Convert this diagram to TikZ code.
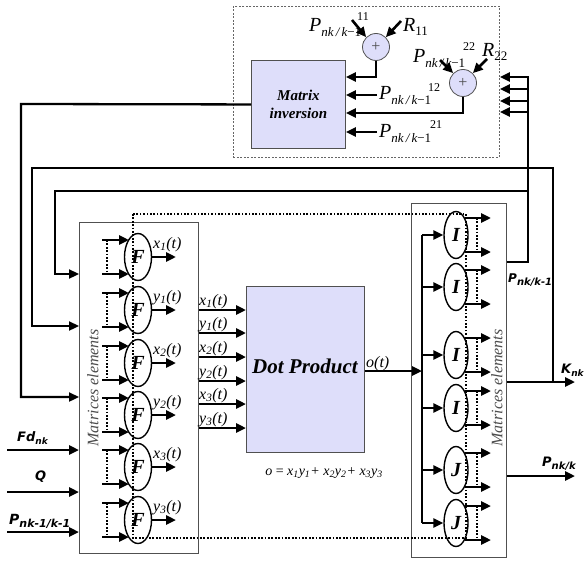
\documentclass[tikz,border=0pt]{standalone}
\usepackage{fontspec}
\setmainfont{Liberation Serif}
\newfontfamily\dvs{DejaVu Sans}
\usetikzlibrary{arrows.meta,shapes.geometric}
\definecolor{boxfill}{RGB}{222,222,250}
\definecolor{bord}{RGB}{80,80,80}
\newcommand{\fs}[1]{\fontsize{#1}{#1}\selectfont}
\newcommand{\Pnk}{{\fs{20}\itshape P}\raisebox{-5pt}{\fs{13}\itshape nk\,/\,k\upshape −1}}
\newcommand{\Rs}[1]{{\fs{20}\itshape R}\raisebox{-4pt}{\fs{13}#1}}
\newcommand{\sbi}{\dvs\bfseries\itshape}
\newcommand{\xt}[2]{\fs{16}\itshape #1\textsubscript{#2}(t)}
\begin{document}
\begin{tikzpicture}[x=1pt,y=-1pt,
 arr/.style={line width=2.6pt,-{Triangle[length=10pt,width=9pt]}},
 wire/.style={line width=2.3pt},
 arrw/.style={line width=2.3pt,-{Triangle[length=10pt,width=9pt]}},
 dotl/.style={line width=1.7pt,dash pattern=on 1.7pt off 1.7pt},
 blk/.style={draw=bord,line width=0.8pt,inner sep=0},
 fillbox/.style={draw=bord,fill=boxfill,line width=0.9pt,inner sep=0},
 ell/.style={ellipse,draw,line width=1.4pt,minimum width=27pt,minimum height=47pt,inner sep=0,font=\fs{20}\bfseries\itshape},
 sumc/.style={circle,draw=bord,fill=boxfill,line width=0.8pt,minimum size=27pt,inner sep=0,font=\fs{16}\color{black!70}},
 lab/.style={inner sep=0},
 vlab/.style={inner sep=0,rotate=90,text=black!70,font=\fs{16}\itshape}]

\useasboundingbox (0,0) rectangle (585,561);

% ---------- top: matrix inversion ----------
\node[draw=black!60,dash pattern=on 2pt off 1.5pt,line width=0.9pt,anchor=north west,
      minimum width=266pt,minimum height=151pt,inner sep=0] (TB) at (233,6) {};
\node[fillbox,anchor=north west,minimum width=94pt,minimum height=88pt,align=center,
      font=\fontsize{15}{18}\selectfont\bfseries\itshape] (MI) at (251,60) {Matrix\\inversion};
\node[sumc] (C1) at (376,47) {+};
\node[sumc] (C2) at (463,83) {+};

\coordinate (m1) at (MI.east |- 0,77);
\coordinate (m2) at (MI.east |- 0,95);
\coordinate (m3) at (MI.east |- 0,113);
\coordinate (m4) at (MI.east |- 0,132);
\coordinate (p12) at (377,95);
\coordinate (p21) at (377,132);
\draw[arr] (C1.south) |- (m1);
\draw[arr] (p12) -- (m2);
\draw[arr] (C2.south) |- (m3);
\draw[arr] (p21) -- (m4);

\coordinate (a11) at (352,20);
\coordinate (r11) at (401,21);
\coordinate (a22) at (440,60);
\coordinate (r22) at (487,59);
\draw[arr] (a11) -- (C1.north west);
\draw[arr] (r11) -- (C1.north east);
\draw[arr] (a22) -- (C2.north west);
\draw[arr] (r22) -- (C2.north east);

\node[lab,anchor=base west] (L11) at (309,32) {\Pnk};
\node[lab] (S11) at (363,17) {\fs{12}11};
\node[lab,anchor=base west] (R11) at (403,32) {\Rs{11}};
\node[lab,anchor=base west] (L22) at (413,63) {\Pnk};
\node[lab] (S22) at (469,47) {\fs{12}22};
\node[lab,anchor=base west] (R22) at (482,57) {\Rs{22}};
\node[lab,anchor=base west] (L12) at (379,100) {\Pnk};
\node[lab] (S12) at (434,88) {\fs{12}12};
\node[lab,anchor=base west] (L21) at (379,138) {\Pnk};
\node[lab] (S21) at (436,125) {\fs{12}21};

% ---------- blocks ----------
\node[blk,anchor=north west,minimum width=119pt,minimum height=331pt] (Fblk) at (79,222) {};
\node[blk,anchor=north west,minimum width=95pt,minimum height=354pt] (Iblk) at (411,203) {};
\node[fillbox,anchor=north west,minimum width=118pt,minimum height=166pt] (Dot) at (246,286) {};
\node[lab,anchor=base,font=\fs{21}\bfseries\itshape] (DotT) at (305,373) {Dot Product};
\node[vlab] (FT) at (93,388) {Matrices elements};
\node[vlab] (IT) at (497,388) {Matrices elements};

% ---------- F ellipses ----------
\foreach \i/\c/\lab/\sb in {1/257/x/1,2/310/y/1,3/363/x/2,4/415/y/2,5/467/x/3,6/520/y/3}{
  \node[ell] (F\i) at (138,\c) {F};
  \coordinate (fa\i) at (102,\c-17);
  \coordinate (fb\i) at (102,\c+17);
  \coordinate (fat\i) at (129,\c-17);
  \coordinate (fbt\i) at (129,\c+17);
  \draw[arr] (fa\i) -- (fat\i);
  \draw[arr] (fb\i) -- (fbt\i);
  \draw[dotl] (107,\c-17) -- (107,\c+17);
  \coordinate (fo\i) at (176,\c);
  \draw[arr] (F\i.east) -- (fo\i);
  \node[lab,anchor=base west] (fl\i) at (153,\c-9) {\xt{\lab}{\sb}};
}

% ---------- F block -> dot product ----------
\foreach \j/\y/\lab/\sb in {1/310/x/1,2/333/y/1,3/357/x/2,4/381/y/2,5/404/x/3,6/428/y/3}{
  \draw[arr] (Fblk.east |- 0,\y) -- (Dot.west |- 0,\y);
  \node[lab,anchor=base west] (dl\j) at (199,\y-5) {\xt{\lab}{\sb}};
}
\node[lab,anchor=base] (form) at (324,475) {\fs{14}\itshape o\upshape{} = \itshape x\textsubscript{1}y\textsubscript{1}+ x\textsubscript{2}y\textsubscript{2}+ x\textsubscript{3}y\textsubscript{3}};

% ---------- dot product -> I block ----------
\coordinate (bus) at (422,371);
\draw[arr] (Dot.east |- bus) -- (bus);
\node[lab,anchor=base west] (ot) at (366,367) {\fs{16}\itshape o(t)};
\draw[wire] (422,235) -- (422,523);

% ---------- I/J ellipses ----------
\foreach \i/\c/\L in {1/235/I,2/287/I,3/355/I,4/408/I,5/470/J,6/523/J}{
  \node[ell,minimum width=24pt] (E\i) at (456,\c) {\L};
  \draw[arr] (422,\c) -- (E\i.west);
  \draw[arr] (465,\c-17) -- (491,\c-17);
  \draw[arr] (465,\c+17) -- (491,\c+17);
  \draw[dotl] (477,\c-17) -- (477,\c+17);
}

% dotted loop
\draw[dotl] (133,214) rectangle (466,538);

% ---------- left inputs ----------
\coordinate (in1) at (7,450);
\coordinate (in2) at (7,492);
\coordinate (in3) at (7,532);
\draw[arr] (in1) -- (Fblk.west |- in1);
\draw[arr] (in2) -- (Fblk.west |- in2);
\draw[arr] (in3) -- (Fblk.west |- in3);
\node[lab,anchor=base west] (Fd) at (17,441) {\sbi\fs{13}Fd\raisebox{-3pt}{\fs{9}nk}};
\node[lab,anchor=base west] (Qn) at (35,480) {\sbi\fs{13}Q};
\node[lab,anchor=base west] (Pin) at (9,524) {\sbi\fs{14}P\raisebox{-3pt}{\fs{11}nk-1/k-1}};

% ---------- right outputs and feedback ----------
\coordinate (kj) at (553,382);
\coordinate (kout) at (575,382);
\coordinate (pout) at (575,476);
\draw[arr] (Iblk.east |- kj) -- (kout);
\draw[arr] (Iblk.east |- pout) -- (pout);
\node[lab,anchor=base west] (Pk1) at (508,282) {\sbi\fs{12}P\raisebox{-3pt}{\fs{10}nk/k-1}};
\node[lab,anchor=base west] (Kn) at (561,373) {\sbi\fs{13}K\raisebox{-3pt}{\fs{9}nk}};
\node[lab,anchor=base west] (Pk) at (542,466) {\sbi\fs{13}P\raisebox{-3pt}{\fs{10}nk/k}};

\coordinate (pbus) at (528,77);
\draw[arrw] (Iblk.east |- 0,262) -| (pbus) -- (TB.east |- pbus);
\foreach \y in {89,101,112}{ \draw[arr] (528,\y) -- (TB.east |- 0,\y); }

\draw[arrw] (528,191) -- (55,191) |- (Fblk.west |- 0,274);
\draw[arrw] (kj) -- (553,168) -- (32,168) |- (Fblk.west |- 0,326);
\draw[arrw] (MI.west) -- (21,104) |- (Fblk.west |- 0,397);
\end{tikzpicture}
\end{document}
